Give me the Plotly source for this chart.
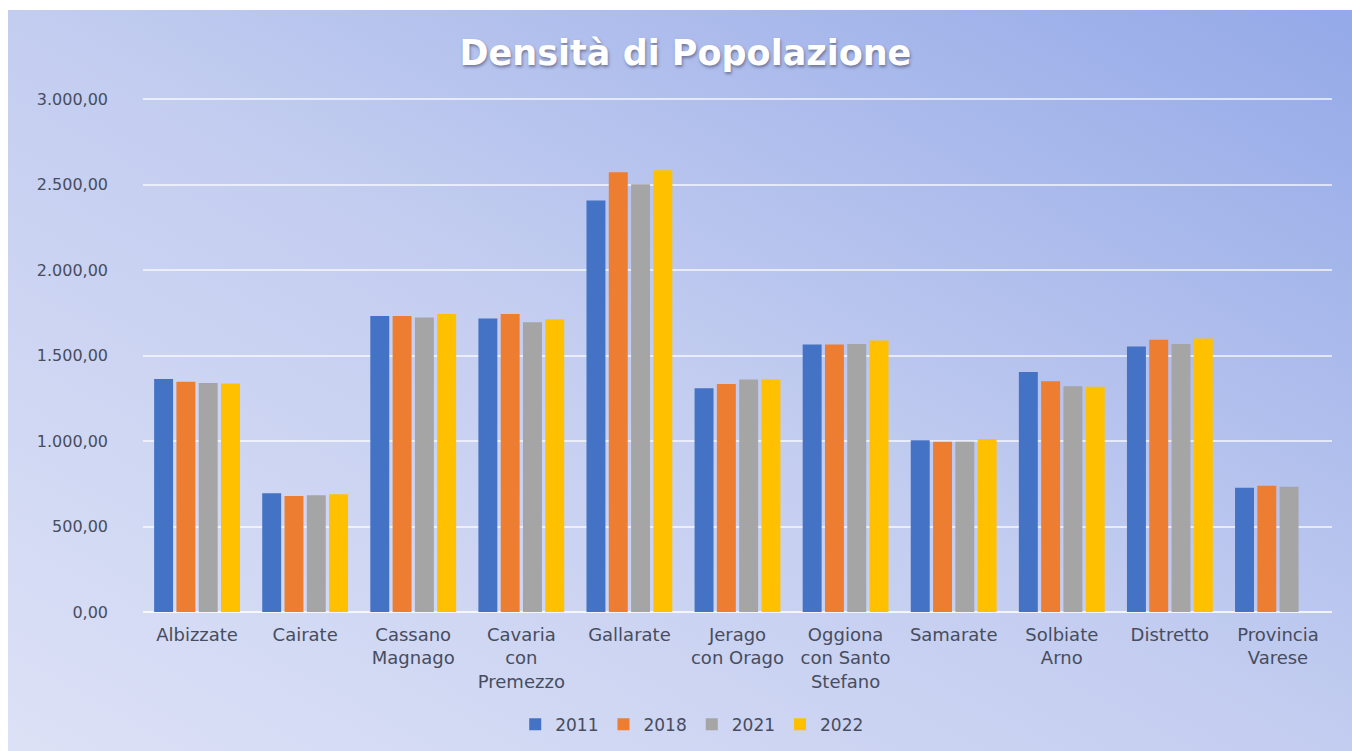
import base64

import plotly.graph_objects as go

# --- data -------------------------------------------------------------------
comuni = [
    "Albizzate", "Cairate", "Cassano<br>Magnago", "Cavaria<br>con<br>Premezzo",
    "Gallarate", "Jerago<br>con Orago", "Oggiona<br>con Santo<br>Stefano",
    "Samarate", "Solbiate<br>Arno", "Distretto", "Provincia<br>Varese",
]
anni = ["2011", "2018", "2021", "2022"]

dens_2011 = [1362, 695, 1731, 1717, 2406, 1309, 1564, 1004, 1403, 1553, 726]
dens_2018 = [1346, 679, 1731, 1743, 2572, 1334, 1564, 996, 1350, 1592, 739]
dens_2021 = [1339, 683, 1723, 1694, 2502, 1360, 1568, 996, 1320, 1568, 733]
dens_2022 = [1337, 689, 1743, 1712, 2584, 1360, 1588, 1012, 1318, 1599, None]

serie = [dens_2011, dens_2018, dens_2021, dens_2022]
colori = ["#4472C4", "#ED7D31", "#A5A5A5", "#FFC000"]

FONT = "DejaVu Sans"
TEXT = "#474d5e"

# background gradient (bottom-left light -> top-right blue) as an svg image
svg = (
    '<svg xmlns="http://www.w3.org/2000/svg" width="100" height="100" preserveAspectRatio="none">'
    '<defs><linearGradient id="g" x1="0" y1="1" x2="1" y2="0">'
    '<stop offset="0" stop-color="#DCE1F6"/>'
    '<stop offset="0.5" stop-color="#C3CDF0"/>'
    '<stop offset="1" stop-color="#94A9E8"/>'
    '</linearGradient></defs>'
    '<rect width="100" height="100" fill="url(#g)"/></svg>'
)
bg_src = "data:image/svg+xml;base64," + base64.b64encode(svg.encode()).decode()

fig = go.Figure()
for anno, valori, colore in zip(anni, serie, colori):
    fig.add_trace(go.Bar(name=anno, x=comuni, y=valori, marker_color=colore,
                         marker_line_width=0))

# figure is 1352x751, plot area 143..1332 x 99..612
W, H = 1352, 751
L, R, T, B = 143, 20, 97, 139
pw, ph = W - L - R, H - T - B

fig.add_layout_image(
    source=bg_src, xref="paper", yref="paper",
    x=(8 - L) / pw, y=(H - B - 10) / ph,
    sizex=(W - 8) / pw, sizey=(H - 10) / ph,
    xanchor="left", yanchor="top", sizing="stretch", layer="below",
)

fig.update_layout(
    width=W, height=H,
    margin=dict(l=L, r=R, t=T, b=B),
    paper_bgcolor="white",
    plot_bgcolor="rgba(0,0,0,0)",
    separators=",.",
    barmode="group",
    bargap=0.175,
    bargroupgap=0.15,
    font=dict(family=FONT, size=17, color=TEXT),
    title=dict(
        text="<b>Densità di Popolazione</b>",
        x=0.507, xref="container", xanchor="center",
        y=0.93, yref="container", yanchor="middle",
        font=dict(family=FONT, size=35, color="white",
                  shadow="1px 2px 3px rgba(60,60,90,0.55)"),
    ),
    legend=dict(
        orientation="h", x=0.512, xref="container", xanchor="center",
        y=0.035, yref="container", yanchor="middle",
        font=dict(family=FONT, size=17, color=TEXT), bgcolor="rgba(0,0,0,0)",
        itemwidth=30, traceorder="normal",
    ),
    xaxis=dict(showgrid=False, showline=False, ticks="", tickangle=0,
               ticklabelstandoff=10,
               tickfont=dict(family=FONT, size=18, color=TEXT), automargin=False),
    yaxis=dict(range=[0, 3012], dtick=500, tickformat=",.2f",
               showgrid=True, gridcolor="rgba(255,255,255,0.65)", gridwidth=1.5,
               zeroline=True, zerolinecolor="rgba(255,255,255,0.8)", zerolinewidth=1.5,
               showline=False, ticks="", ticklabelstandoff=34,
               tickfont=dict(family=FONT, size=16, color=TEXT), automargin=False),
)

fig.write_html(
    "out.html",
    config={"displayModeBar": False},
    post_script="document.body.style.margin='0';document.body.style.overflow='hidden';",
)
